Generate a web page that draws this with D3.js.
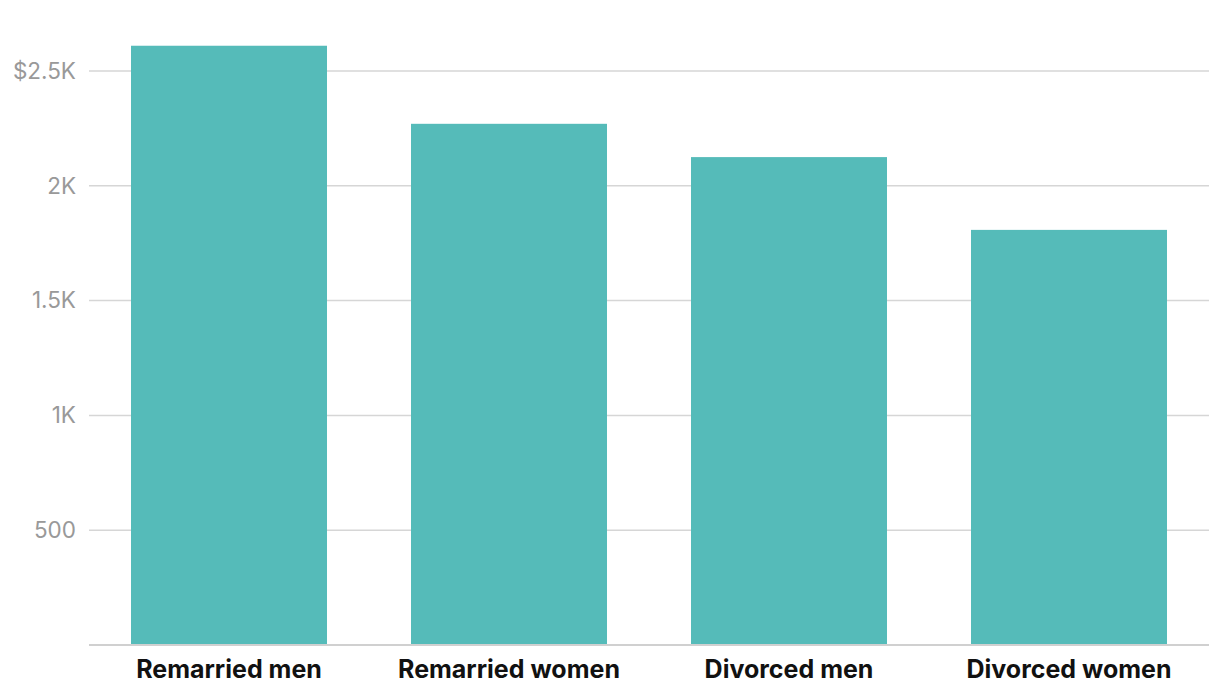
<!DOCTYPE html>
<html><head><meta charset="utf-8">
<script src="https://cdn.jsdelivr.net/npm/d3@7"></script>
<style>body{margin:0;background:#fff;}svg{display:block;font-family:"Inter","Open Sans",sans-serif;}</style>
</head><body>
<svg id="c" width="1220" height="698"></svg>
<script>
const categories = ["Remarried men","Remarried women","Divorced men","Divorced women"];
const values = [2610, 2270, 2125, 1808];
const tickValues = [500, 1000, 1500, 2000, 2500];
const tickLabels = ["500","1K","1.5K","2K","$2.5K"];

(function(){
const svg = d3.select("#c");
const mLeft = 89, mRight = 1209, mBottom = 645;
const x = d3.scaleBand().domain(categories).range([mLeft, mRight]).paddingInner(0.3).paddingOuter(0.15);
const y = d3.scaleLinear().domain([0, 2500]).range([mBottom, mBottom - 574]);

svg.append("g").selectAll("line").data(tickValues).join("line")
  .attr("x1", mLeft).attr("x2", mRight)
  .attr("y1", d => y(d)).attr("y2", d => y(d))
  .attr("stroke", "#d6d6d6").attr("stroke-width", 1.5);

svg.append("line").attr("x1", mLeft).attr("x2", mRight).attr("y1", y(0)).attr("y2", y(0))
  .attr("stroke", "#d0d0d0").attr("stroke-width", 2);

svg.append("g").selectAll("rect").data(values).join("rect")
  .attr("x", (d,i) => x(categories[i])).attr("width", x.bandwidth())
  .attr("y", d => y(d)).attr("height", d => y(0) - y(d) - 1)
  .attr("fill", "#55bbb9");

svg.append("g").selectAll("text").data(tickValues).join("text")
  .attr("x", 76).attr("y", d => y(d)).attr("dy", "0.35em")
  .attr("text-anchor", "end").attr("fill", "#999999")
  .attr("font-size", 22.5).text((d,i) => tickLabels[i]);

svg.append("g").selectAll("text").data(categories).join("text")
  .attr("x", d => x(d) + x.bandwidth()/2).attr("y", 669).attr("dy", "0.35em")
  .attr("text-anchor", "middle").attr("fill", "#111")
  .attr("font-size", 25).attr("font-weight", "bold").text(d => d);
})();
</script>
</body></html>
